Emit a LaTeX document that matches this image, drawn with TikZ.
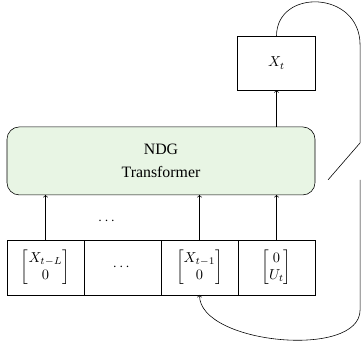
\documentclass[tikz,border=0pt]{standalone}
\usepackage{amsmath}
\usepackage{fontspec}
\setmainfont{Liberation Serif}
\usepackage[dvipsnames]{xcolor}
\usetikzlibrary{positioning,calc}

\definecolor{tfgreen}{RGB}{232,245,228}

\begin{document}
\begin{tikzpicture}[-,auto,node distance=1.1cm,
    cell/.style={draw,minimum width=1.88cm,minimum height=1.34cm,inner sep=0pt,outer sep=0pt},
    transformer/.style={draw,rounded corners=0.3cm,fill=tfgreen,align=center,font=\fontsize{11pt}{14pt}\selectfont,minimum width=7.52cm,minimum height=1.66cm,inner sep=0pt,outer sep=0pt},
    outbox/.style={draw,minimum width=1.9cm,minimum height=1.32cm,inner sep=0pt,outer sep=0pt}]

    % input window
    \node[cell] (c1) {$\begin{bmatrix} X_{t-L}\\ 0\end{bmatrix}$};
    \node[cell] (c2) [right=0pt of c1] {$\cdots$};
    \node[cell] (c3) [right=0pt of c2] {$\begin{bmatrix} X_{t-1}\\ 0\end{bmatrix}$};
    \node[cell] (c4) [right=0pt of c3] {$\begin{bmatrix} 0\\ U_t\end{bmatrix}$};

    \node[transformer] (tf) [above=1.1cm of c2.north east] {NDG\\[1.5pt]Transformer};
    \coordinate (t4) at (c4 |- tf.north);
    \node[outbox] (xt) [above=0.9cm of t4] {$X_t$};

    \path (c2.north) -- (c2.north |- tf.south) node[midway,yshift=-0.1cm] (gap) {$\cdots$};

    % feedback route
    \coordinate (r1) at ($(c4.east |- xt.north)+(1.1cm,-0.22cm)$);
    \coordinate (r2) at ($(tf.north -| r1)+(0,-0.39cm)$);
    \coordinate (r3) at ($(tf.south east)+(0.32cm,0.37cm)$);
    \coordinate (r4) at (r3 -| r1);
    \coordinate (r5) at ($(c4.south -| r1)+(0,-0.37cm)$);

    \useasboundingbox ($(c1.south west)+(-0.171cm,-1.294cm)$) rectangle ($(c4.east |- xt.north)+(1.147cm,0.879cm)$);

    \path[->]
        (c1) edge (c1 |- tf.south)
        (c3) edge (c3 |- tf.south)
        (c4) edge (c4 |- tf.south)
        (tf.north -| xt) edge (xt)
        ;

    \draw (xt.north) .. controls +(0,1.17cm) and +(0,1.34cm) .. (r1) -- (r2) -- (r3);
    \draw[->] (r4) -- (r5) to[out=-90,in=-90,looseness=0.78] (c3.south);
\end{tikzpicture}
\end{document}
